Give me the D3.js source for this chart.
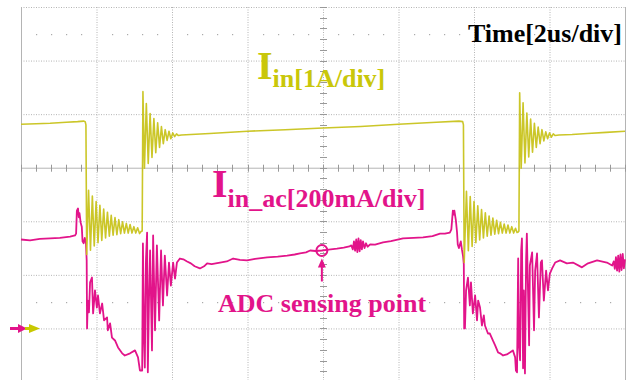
<!DOCTYPE html>
<html><head><meta charset="utf-8">
<script src="https://cdn.jsdelivr.net/npm/d3@7"></script>
<style>body{margin:0;background:#fff}svg{display:block}</style>
</head><body>
<svg id="c" width="640" height="380"></svg>
<script>
// ---- data ----
const timeTicks = [0, 2, 4, 6, 8, 10, 12, 14, 16];          // us (2us/div)
const ampTicks = [-1, 0, 1, 2, 3, 4, 5, 6];                  // A (1A/div)
const timeLabel = "Time[2us/div]";
const iinLabel = ["I", "in[1A/div]"];
const iinAcLabel = ["I", "in_ac[200mA/div]"];
const noteLabel = "ADC sensing point";
const sensingPoint = [7.97, 291];                            // [us, mA]

// Iin [t(us), A]
const iin = [
[0,3.81],[0.40,3.82],[0.77,3.83],[1.20,3.85],[1.50,3.86],[1.66,3.87],[1.70,3.86],[1.72,3.80],[1.74,1.38],
[1.79,2.58],[1.84,1.46],[1.89,2.47],[1.94,1.54],[1.99,2.37],[2.04,1.60],[2.09,2.30],[2.14,1.64],[2.19,2.23],[2.24,1.69],
[2.29,2.17],[2.34,1.72],[2.39,2.11],[2.44,1.74],[2.49,2.07],[2.54,1.75],[2.59,2.03],[2.64,1.77],[2.69,1.99],[2.74,1.78],
[2.79,1.96],[2.84,1.78],[2.89,1.94],[2.94,1.78],[2.99,1.90],[3.04,1.78],[3.09,1.88],[3.14,1.77],[3.18,1.81],[3.21,1.82],
[3.23,4.42],[3.27,2.99],[3.32,4.20],[3.37,3.08],[3.42,4.01],[3.47,3.19],[3.52,3.92],[3.57,3.28],[3.62,3.84],[3.67,3.38],
[3.72,3.77],[3.77,3.45],[3.82,3.71],[3.87,3.51],[3.92,3.68],[3.97,3.54],[4.02,3.65],[4.07,3.58],[4.12,3.63],[4.17,3.60],[4.25,3.61],
[5.0,3.64],[6.0,3.68],[7.0,3.71],[8.0,3.74],[9.0,3.77],[10.0,3.81],[11.0,3.85],[11.60,3.87],[11.70,3.86],[11.72,3.80],[11.74,1.23],
[11.80,2.56],[11.85,1.45],[11.90,2.46],[11.95,1.53],[12.00,2.37],[12.05,1.60],[12.10,2.29],[12.15,1.65],[12.20,2.22],[12.25,1.69],
[12.30,2.16],[12.35,1.72],[12.40,2.10],[12.45,1.74],[12.50,2.06],[12.55,1.76],[12.60,2.02],[12.65,1.77],[12.70,1.98],[12.75,1.78],
[12.80,1.95],[12.85,1.78],[12.90,1.93],[12.95,1.78],[13.00,1.90],[13.05,1.78],[13.10,1.87],[13.14,1.79],[13.17,1.80],[13.19,1.82],
[13.21,4.40],[13.25,2.99],[13.30,4.21],[13.35,3.09],[13.40,4.02],[13.45,3.20],[13.50,3.91],[13.55,3.29],[13.60,3.83],[13.65,3.38],
[13.70,3.76],[13.75,3.45],[13.80,3.71],[13.85,3.50],[13.90,3.67],[13.95,3.54],[14.00,3.65],[14.05,3.57],[14.10,3.63],[14.15,3.60],
[14.25,3.61],[14.6,3.62],[15.0,3.64],[15.5,3.66],[16.0,3.68]
];

// Iin_ac [t(us), mA]
const iinAc = [
[0,332],[0.24,329],[0.50,334],[0.77,336],[1.03,338],[1.30,343],[1.43,347],[1.46,354],[1.48,440],[1.51,448],[1.53,415],[1.55,430],
[1.58,395],[1.61,380],[1.63,325],[1.66,318],[1.69,338],[1.72,320],[1.74,254],[1.75,0],
[1.77,104],[1.80,60],[1.83,172],[1.88,190],[1.91,56],[1.96,142],[2.01,78],[2.04,123],[2.09,56],[2.15,93],[2.20,30],[2.28,41],
[2.30,-7],[2.36,19],[2.41,-34],[2.49,-45],[2.57,-71],[2.68,-93],[2.75,-101],[2.89,-93],[3.02,-82],[3.10,-108],[3.15,-157],[3.21,-157],
[3.23,317],[3.26,-45],[3.28,-146],[3.31,254],[3.34,358],[3.36,-164],[3.39,104],[3.42,291],[3.47,-82],[3.50,347],[3.55,-7],[3.60,310],
[3.66,30],[3.71,291],[3.76,86],[3.81,272],[3.87,123],[3.92,246],[3.97,160],[4.03,246],[4.08,186],[4.13,246],[4.21,261],
[4.30,258],[4.40,250],[4.50,243],[4.60,232],[4.74,224],[4.85,232],[4.93,243],[5.05,240],[5.27,246],[5.45,250],[5.62,261],[5.80,256],
[5.99,254],[6.20,260],[6.52,265],[6.80,268],[7.05,272],[7.25,276],[7.39,280],[7.55,284],[7.66,291],[7.80,289],[7.97,291],[8.15,294],
[8.37,298],[8.55,302],[8.70,306],
[8.75,310],[8.79,295],[8.82,325],[8.85,290],[8.88,332],[8.91,285],[8.94,336],[8.97,288],[9.00,330],[9.03,295],[9.06,325],[9.10,300],
[9.14,318],[9.18,305],[9.25,314],[9.38,313],[9.59,321],[9.80,326],[10.12,336],[10.40,338],[10.65,340],[10.90,345],[11.10,354],
[11.23,354],[11.36,358],
[11.40,370],[11.44,440],[11.46,425],[11.48,440],[11.52,403],[11.55,360],[11.57,313],[11.60,300],[11.62,310],[11.65,325],[11.68,295],
[11.71,270],[11.73,240],[11.74,0],
[11.76,0],[11.79,142],[11.84,190],[11.89,86],[11.92,172],[11.97,56],[12.03,123],[12.08,30],[12.11,104],[12.16,78],[12.21,11],
[12.26,49],[12.29,11],[12.37,-19],[12.42,-19],[12.50,-45],[12.56,-63],[12.64,-90],[12.69,-93],[12.77,-101],[12.87,-97],[12.95,-90],
[13.03,-82],[13.09,-108],[13.11,-157],[13.14,-164],
[13.17,261],[13.19,-63],[13.22,-119],[13.25,291],[13.27,336],[13.30,-149],[13.32,142],[13.35,-168],[13.38,254],[13.40,354],
[13.46,-63],[13.48,235],[13.54,284],[13.59,-7],[13.62,216],[13.67,280],[13.72,41],[13.77,246],[13.80,254],[13.85,104],[13.91,216],
[13.96,142],[14.01,205],[14.07,224],[14.15,246],
[14.28,254],[14.46,243],[14.62,246],[14.86,228],[15.02,243],[15.26,254],[15.52,246],[15.66,235],
[15.70,250],[15.73,222],[15.76,266],[15.79,216],[15.82,272],[15.85,212],[15.88,276],[15.91,218],[15.94,278],[15.97,224],[16.0,258]
];

// ---- drawing ----
const YELLOW = "#c8c31c", YTEXT = "#c9c70a", MAG = "#e2148a", GRID = "#b4b4b4";
const svg = d3.select("#c");
const x = d3.scaleLinear().domain([0, 16]).range([21, 625]);
const yA = d3.scaleLinear().domain([-1, 6]).range([382, 7]);
const yM = d3.scaleLinear().domain([-200, 1200]).range([382, 7]);

const g = svg.append("g");
// graticule
g.selectAll("line.v").data(timeTicks).enter().append("line")
  .attr("x1", d => x(d) + 0.5).attr("x2", d => x(d) + 0.5)
  .attr("y1", yA(6)).attr("y2", 380)
  .attr("stroke", GRID).attr("stroke-width", 1)
  .attr("stroke-dasharray", d => (d === 0 || d === 16) ? null : "1,1.5");
g.selectAll("line.h").data(ampTicks).enter().append("line")
  .attr("y1", d => yA(d) + 0.5).attr("y2", d => yA(d) + 0.5)
  .attr("x1", x(0)).attr("x2", x(16))
  .attr("stroke", GRID).attr("stroke-width", 1)
  .attr("stroke-dasharray", d => d === 3 ? null : "1,1.5");
// center line ticks
const minorT = d3.range(0, 16.01, 0.4);
const minorA = d3.range(-1, 6.01, 0.2);
g.selectAll("line.mt").data(minorT).enter().append("line")
  .attr("x1", d => Math.round(x(d)) + 0.5).attr("x2", d => Math.round(x(d)) + 0.5)
  .attr("y1", yA(3) - 3).attr("y2", yA(3) + 4)
  .attr("stroke", "#999");
g.selectAll("line.ma").data(minorA).enter().append("line")
  .attr("y1", d => Math.round(yA(d)) + 0.5).attr("y2", d => Math.round(yA(d)) + 0.5)
  .attr("x1", x(8) - 3).attr("x2", x(8) + 4)
  .attr("stroke", "#999");
// dotted rows
[5.5, 0.5].forEach(a => {
  g.selectAll(null).data(minorT.filter((d, i) => i % 5 !== 0)).enter().append("rect")
    .attr("x", d => Math.round(x(d))).attr("y", Math.round(yA(a)))
    .attr("width", 1.2).attr("height", 1.2).attr("fill", "#aaa");
});

// traces
const lineA = d3.line().x(d => x(d[0])).y(d => yA(d[1]));
const lineM = d3.line().x(d => x(d[0])).y(d => yM(d[1]));
svg.append("path").datum(iinAc).attr("d", lineM)
  .attr("fill", "none").attr("stroke", MAG).attr("stroke-width", 1.8).attr("stroke-linejoin", "round");
svg.append("path").datum(iin).attr("d", lineA)
  .attr("fill", "none").attr("stroke", YELLOW).attr("stroke-width", 1.6).attr("stroke-linejoin", "round")
  .attr("opacity", 0.95);

// ground markers
const gy = yA(0);
svg.append("path").attr("fill", MAG)
  .attr("d", `M10,${gy-1.5} L18,${gy-1.5} L18,${gy-4.5} L27,${gy} L18,${gy+4.5} L18,${gy+1.5} L10,${gy+1.5} Z`);
svg.append("path").attr("fill", "#c8c800")
  .attr("d", `M25,${gy-1.5} L29,${gy-1.5} L29,${gy-4.5} L40,${gy} L29,${gy+4.5} L29,${gy+1.5} L25,${gy+1.5} Z`);

// sensing point marker
const sx = x(sensingPoint[0]), sy = yM(sensingPoint[1]);
svg.append("circle").attr("cx", sx).attr("cy", sy).attr("r", 5.5)
  .attr("fill", "none").attr("stroke", MAG).attr("stroke-width", 2);
svg.append("line").attr("x1", sx).attr("x2", sx).attr("y1", sy + 14).attr("y2", sy + 31)
  .attr("stroke", MAG).attr("stroke-width", 2);
svg.append("path").attr("fill", MAG)
  .attr("d", `M${sx},${sy+8} L${sx-4},${sy+17} L${sx+4},${sy+17} Z`);

// texts
const FONT = "'Liberation Serif','Times New Roman',serif";
svg.append("text").attr("x", 622).attr("y", 42).attr("text-anchor", "end")
  .attr("font-family", FONT).attr("font-weight", "bold").attr("font-size", 26)
  .attr("fill", "#000").text(timeLabel);

const t1 = svg.append("text").attr("x", 257).attr("y", 79)
  .attr("font-family", FONT).attr("font-weight", "bold").attr("fill", YTEXT);
t1.append("tspan").attr("font-size", 40).text(iinLabel[0]);
t1.append("tspan").attr("font-size", 26).attr("dy", 8).text(iinLabel[1]);

const t2 = svg.append("text").attr("x", 212).attr("y", 197)
  .attr("font-family", FONT).attr("font-weight", "bold").attr("fill", MAG);
t2.append("tspan").attr("font-size", 40).text(iinAcLabel[0]);
t2.append("tspan").attr("font-size", 26).attr("dy", 10).text(iinAcLabel[1]);

svg.append("text").attr("x", 218).attr("y", 312)
  .attr("font-family", FONT).attr("font-weight", "bold").attr("font-size", 26)
  .attr("fill", MAG).text(noteLabel);
</script>
</body></html>
